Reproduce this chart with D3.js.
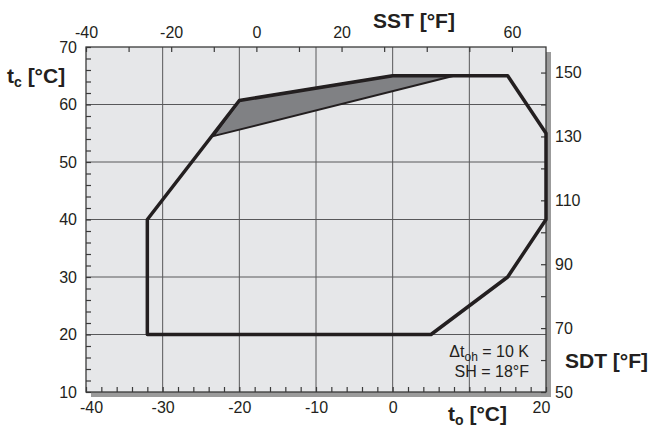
<!DOCTYPE html>
<html>
<head>
<meta charset="utf-8">
<script src="https://cdnjs.cloudflare.com/ajax/libs/d3/7.8.5/d3.min.js"></script>
<style>
  body { margin: 0; background: white; }
  text { font-family: "Liberation Sans", Arial, sans-serif; fill: #231f20; }
</style>
</head>
<body>
<div id="chart"></div>
<script>
// data

// axes (evaporating temp t_o, condensing temp t_c, in degC)
var X_LABELS = [-40, -30, -20, -10, 0, 20];   // 10 is hidden by the axis title
var Y_LABELS = [10, 20, 30, 40, 50, 60, 70];
var X_GRID = [-30, -20, -10, 0, 10];
var Y_GRID = [20, 30, 40, 50, 60];
// fahrenheit scales
var TOP_TICKS_F = [-40, -30, -20, -10, 0, 10, 20, 30, 40, 50, 60];
var TOP_LABELS_F = [-40, -20, 0, 20, 60];
var RIGHT_TICKS_F = [50, 60, 70, 80, 90, 100, 110, 120, 130, 140, 150];
var RIGHT_LABELS_F = [50, 70, 90, 110, 130, 150];

// application envelope
var ENV_TO = [-32, -32, -20, 0, 15, 20, 20, 15, 5];
var ENV_TC = [20, 40, 60.7, 65, 65, 55, 40, 30, 20];
// shaded region
var WEDGE_TO = [-23.4, -20, 0, 8];
var WEDGE_TC = [54.5, 60.7, 65, 65];

// layout
var WIDTH = 651, HEIGHT = 430;
var LEFT = 86, RIGHT = 546, TOP = 47, BOTTOM = 392;

var x = d3.scaleLinear().domain([-40, 20]).range([LEFT, RIGHT]);
var y = d3.scaleLinear().domain([10, 70]).range([BOTTOM, TOP]);
// same range, degF domain (degF = degC*9/5+32)
var xF = d3.scaleLinear().domain([-40, 68]).range([LEFT, RIGHT]);
var yF = d3.scaleLinear().domain([50, 158]).range([BOTTOM, TOP]);

var svg = d3.select("#chart").append("svg")
  .attr("width", WIDTH)
  .attr("height", HEIGHT);

// shadow
svg.append("rect")
  .attr("x", LEFT + 5)
  .attr("y", TOP + 5)
  .attr("width", RIGHT - LEFT)
  .attr("height", BOTTOM - TOP)
  .style("fill", "#9b9b9b");

// plot background
svg.append("rect")
  .attr("x", LEFT)
  .attr("y", TOP)
  .attr("width", RIGHT - LEFT)
  .attr("height", BOTTOM - TOP)
  .style("fill", "#e6e7e9");

// grid
svg.append("g").selectAll("line")
  .data(X_GRID).enter().append("line")
  .attr("x1", function(d){ return x(d); })
  .attr("x2", function(d){ return x(d); })
  .attr("y1", TOP)
  .attr("y2", BOTTOM)
  .style("stroke", "#58585a")
  .style("stroke-width", 1);

svg.append("g").selectAll("line")
  .data(Y_GRID).enter().append("line")
  .attr("x1", LEFT)
  .attr("x2", RIGHT)
  .attr("y1", function(d){ return y(d); })
  .attr("y2", function(d){ return y(d); })
  .style("stroke", "#58585a")
  .style("stroke-width", 1);

// axes
var styleAxis = function(g){
  g.select(".domain").remove();
  g.selectAll(".tick line").style("stroke", "#3a3a3a").style("stroke-width", 1.2);
  g.selectAll(".tick text")
    .style("font-family", "'Liberation Sans', Arial, sans-serif")
    .style("font-size", "16px")
    .style("fill", "#231f20");
};

var bottomAxis = svg.append("g")
  .attr("transform", "translate(0," + BOTTOM + ")")
  .call(d3.axisBottom(x)
    .tickValues(d3.range(-40, 21, 2))
    .tickSize(-5)
    .tickPadding(10)
    .tickFormat(function(d){ return X_LABELS.indexOf(d) >= 0 ? d : ""; }))
  .call(styleAxis);
// end labels sit a bit inside
bottomAxis.selectAll(".tick text")
  .attr("dx", function(d){ return d == -40 ? 5 : (d == 20 ? -5 : 0); });

var leftAxis = svg.append("g")
  .attr("transform", "translate(" + LEFT + ",0)")
  .call(d3.axisLeft(y)
    .tickValues(d3.range(10, 71, 2))
    .tickSize(-5)
    .tickPadding(9)
    .tickFormat(function(d){ return Y_LABELS.indexOf(d) >= 0 ? d : ""; }))
  .call(styleAxis);

var topAxis = svg.append("g")
  .attr("transform", "translate(0," + TOP + ")")
  .call(d3.axisTop(xF)
    .tickValues(TOP_TICKS_F)
    .tickSize(-5)
    .tickPadding(9)
    .tickFormat(function(d){ return TOP_LABELS_F.indexOf(d) >= 0 ? d : ""; }))
  .call(styleAxis);

var rightAxis = svg.append("g")
  .attr("transform", "translate(" + RIGHT + ",0)")
  .call(d3.axisRight(yF)
    .tickValues(RIGHT_TICKS_F)
    .tickSize(-5)
    .tickPadding(9)
    .tickFormat(function(d){ return RIGHT_LABELS_F.indexOf(d) >= 0 ? d : ""; }))
  .call(styleAxis);

// frame
svg.append("rect")
  .attr("x", LEFT)
  .attr("y", TOP)
  .attr("width", RIGHT - LEFT)
  .attr("height", BOTTOM - TOP)
  .style("fill", "none")
  .style("stroke", "#3a3a3a")
  .style("stroke-width", 1.3);

// shaded wedge
var wedge = WEDGE_TO.map(function(d, i){ return [x(d), y(WEDGE_TC[i])]; });
svg.append("path")
  .attr("d", d3.line()(wedge) + "Z")
  .style("fill", "#808184")
  .style("stroke", "#231f20")
  .style("stroke-width", 2)
  .style("stroke-linejoin", "round");

// envelope
var env = ENV_TO.map(function(d, i){ return [x(d), y(ENV_TC[i])]; });
svg.append("path")
  .attr("d", d3.line()(env) + "Z")
  .style("fill", "none")
  .style("stroke", "#231f20")
  .style("stroke-width", 3.5)
  .style("stroke-linejoin", "round");

// axis titles
var title = function(xp, yp, main, sub, rest){
  var t = svg.append("text")
    .attr("x", xp)
    .attr("y", yp)
    .style("font-size", "21px")
    .style("font-weight", "bold");
  t.append("tspan").text(main);
  if (sub){
    t.append("tspan").attr("dy", 4).style("font-size", "14px").text(sub);
    t.append("tspan").attr("dy", -4).text(rest);
  }
  return t;
};
title(7, 83, "t", "c", " [°C]");
title(448, 421, "t", "o", " [°C]");
title(373, 28, "SST [°F]");
title(565, 368, "SDT [°F]");

// note
var note = svg.append("text")
  .attr("x", 529)
  .attr("y", 357)
  .attr("text-anchor", "end")
  .style("font-size", "16px");
note.append("tspan").text("Δt");
note.append("tspan").attr("dy", 4).style("font-size", "12px").text("oh");
note.append("tspan").attr("dy", -4).text(" = 10 K");

svg.append("text")
  .attr("x", 529)
  .attr("y", 377)
  .attr("text-anchor", "end")
  .style("font-size", "16px")
  .text("SH = 18°F");
</script>
</body>
</html>
